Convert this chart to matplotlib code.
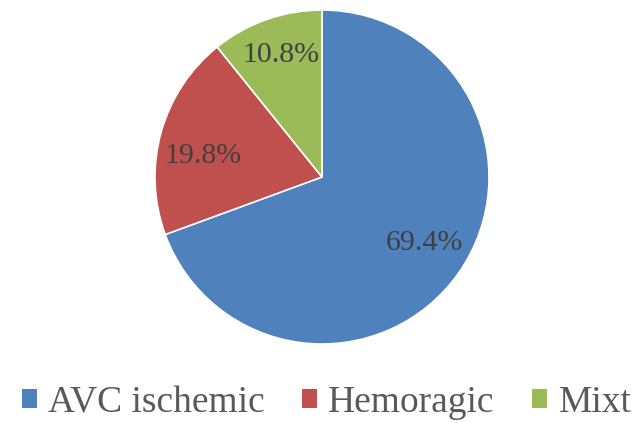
import matplotlib
matplotlib.use("Agg")
import matplotlib.pyplot as plt
from matplotlib.patches import Patch

labels = ["AVC ischemic", "Hemoragic", "Mixt"]
values = [69.4, 19.8, 10.8]
colors = ["#4F81BD", "#C0504D", "#9BBB59"]

plt.rcParams['font.family'] = ['Liberation Serif', 'DejaVu Serif']

fig = plt.figure(figsize=(6.39, 4.23), dpi=100)
ax = fig.add_axes([155 / 639, 1 - 344 / 423, 334 / 639, 334 / 423])

wedges, texts, autotexts = ax.pie(
    values, colors=colors, startangle=90, counterclock=False,
    autopct=lambda p: f"{p:.1f}%", pctdistance=0.73,
    wedgeprops=dict(edgecolor="white", linewidth=1.2),
    textprops=dict(fontsize=21.5, color="#404040"))

# small nudges so labels sit where the original puts them
nudges = [(0.012, 0.024), (-0.012, -0.068), (-0.006, 0.04)]
for t, (dx, dy) in zip(autotexts, nudges):
    x, y = t.get_position()
    t.set_position((x + dx, y + dy))

ax.set_xlim(-1, 1)
ax.set_ylim(-1, 1)

handles = [Patch(facecolor=c, edgecolor="none") for c in colors]
fig.legend(handles, labels, loc="center", bbox_to_anchor=(0.511, 0.047),
           ncol=3, frameon=False, fontsize=27, handlelength=0.4,
           handleheight=0.4, handletextpad=0.3, columnspacing=1.0,
           labelcolor="#595959")

fig.savefig("out.png", dpi=100)
